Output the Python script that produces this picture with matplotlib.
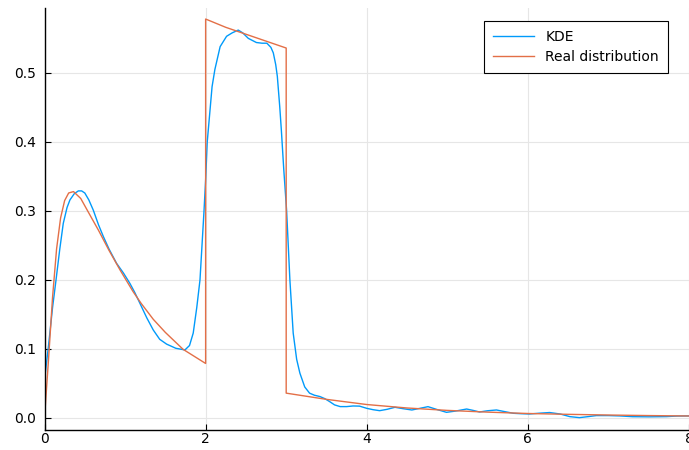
import matplotlib
matplotlib.use("Agg")
import matplotlib.pyplot as plt

# values
kde_x = [0.0, 0.05, 0.1, 0.143, 0.19, 0.233, 0.28, 0.316, 0.37, 0.42, 0.461, 0.5,
         0.55, 0.606, 0.67, 0.73, 0.8, 0.895, 0.98, 1.06, 1.12, 1.185, 1.27, 1.35,
         1.43, 1.516, 1.63, 1.743, 1.8, 1.846, 1.89, 1.93, 1.98, 2.0, 2.02, 2.05,
         2.08, 2.115, 2.18, 2.26, 2.33, 2.405, 2.46, 2.53, 2.63, 2.7, 2.76, 2.81,
         2.84, 2.87, 2.89, 2.92, 2.94, 2.97, 3.005, 3.046, 3.087, 3.13, 3.17, 3.23,
         3.29, 3.35, 3.42, 3.48, 3.54, 3.6, 3.67, 3.75, 3.83, 3.91, 4.0, 4.08,
         4.16, 4.25, 4.35, 4.45, 4.56, 4.66, 4.76, 4.88, 4.99, 5.1, 5.24, 5.32,
         5.4, 5.5, 5.61, 5.7, 5.82, 5.92, 6.02, 6.15, 6.27, 6.4, 6.52, 6.64,
         6.75, 6.85, 7.0, 7.14, 7.3, 7.5, 7.72, 7.85, 8.0]
kde_y = [0.055, 0.105, 0.16, 0.2, 0.245, 0.282, 0.305, 0.316, 0.325, 0.329, 0.329, 0.326,
         0.316, 0.301, 0.28, 0.263, 0.245, 0.224, 0.21, 0.195, 0.182, 0.166, 0.145, 0.1275,
         0.114, 0.107, 0.101, 0.0986, 0.105, 0.123, 0.16, 0.2, 0.3, 0.345, 0.4, 0.44,
         0.48, 0.505, 0.538, 0.553, 0.558, 0.562, 0.558, 0.55, 0.544, 0.543, 0.543, 0.537,
         0.529, 0.512, 0.495, 0.451, 0.417, 0.36, 0.301, 0.2, 0.123, 0.085, 0.065, 0.045,
         0.036, 0.033, 0.031, 0.028, 0.0237, 0.019, 0.0165, 0.0165, 0.0174, 0.0172, 0.014, 0.012,
         0.0106, 0.0125, 0.0155, 0.0135, 0.0116, 0.014, 0.0164, 0.012, 0.0082, 0.01, 0.013, 0.011,
         0.0087, 0.0105, 0.0116, 0.0095, 0.0068, 0.0062, 0.0058, 0.007, 0.0079, 0.0058, 0.002, 0.0005,
         0.002, 0.0035, 0.0035, 0.003, 0.0019, 0.0017, 0.002, 0.0028, 0.003]

real_x = [0.0, 0.05, 0.1, 0.15, 0.2, 0.25, 0.3, 0.36, 0.45, 0.55, 0.67, 0.8, 0.94,
          1.1, 1.2, 1.35, 1.5, 1.72, 2.0,
          2.0, 2.25, 2.5, 2.75, 3.0,
          3.0, 3.5, 4.0, 4.5, 5.0, 5.5, 6.0, 6.5, 7.0, 7.5, 8.0]
real_y = [0.0, 0.085, 0.175, 0.245, 0.29, 0.315, 0.326, 0.328, 0.318, 0.297, 0.272, 0.243, 0.214,
          0.183, 0.166, 0.143, 0.124, 0.0995, 0.079,
          0.578, 0.566, 0.556, 0.546, 0.536,
          0.036, 0.027, 0.0195, 0.0145, 0.011, 0.0085, 0.0065, 0.0053, 0.0043, 0.0035, 0.0029]

x_ticks = [0, 2, 4, 6, 8]
y_ticks = [0.0, 0.1, 0.2, 0.3, 0.4, 0.5]

fig = plt.figure(figsize=(6.89, 4.5), dpi=100)
ax = fig.add_axes([44.5 / 689, 20 / 450, 1 - 44.5 / 689, 422 / 450])

ax.plot(kde_x, kde_y, color="#009AFA", lw=1.0, label="KDE")
ax.plot(real_x, real_y, color="#E36F47", lw=1.0, label="Real distribution")

ax.set_xlim(0, 8)
ax.set_ylim(-0.0174, 0.594)
ax.set_xticks(x_ticks)
ax.set_yticks(y_ticks)
ax.set_yticklabels([f"{v:.1f}" for v in y_ticks])
ax.grid(True, color="#e6e6e6", lw=0.8)
ax.set_axisbelow(True)
for s in ("top", "right"):
    ax.spines[s].set_visible(False)
for s in ("left", "bottom"):
    ax.spines[s].set_linewidth(1.0)
ax.tick_params(direction="in", length=4, width=0.8, labelsize=10)
ax.tick_params(axis="x", pad=1.5)
ax.tick_params(axis="y", pad=6)

leg = ax.legend(loc="upper right", fancybox=False, edgecolor="black", fontsize=10,
                handlelength=3.0, borderpad=0.65, labelspacing=0.45,
                borderaxespad=0, framealpha=1,
                bbox_to_anchor=(668 / 689, 429 / 450), bbox_transform=fig.transFigure)
leg.get_frame().set_linewidth(0.8)

fig.savefig("out.png", dpi=100)
